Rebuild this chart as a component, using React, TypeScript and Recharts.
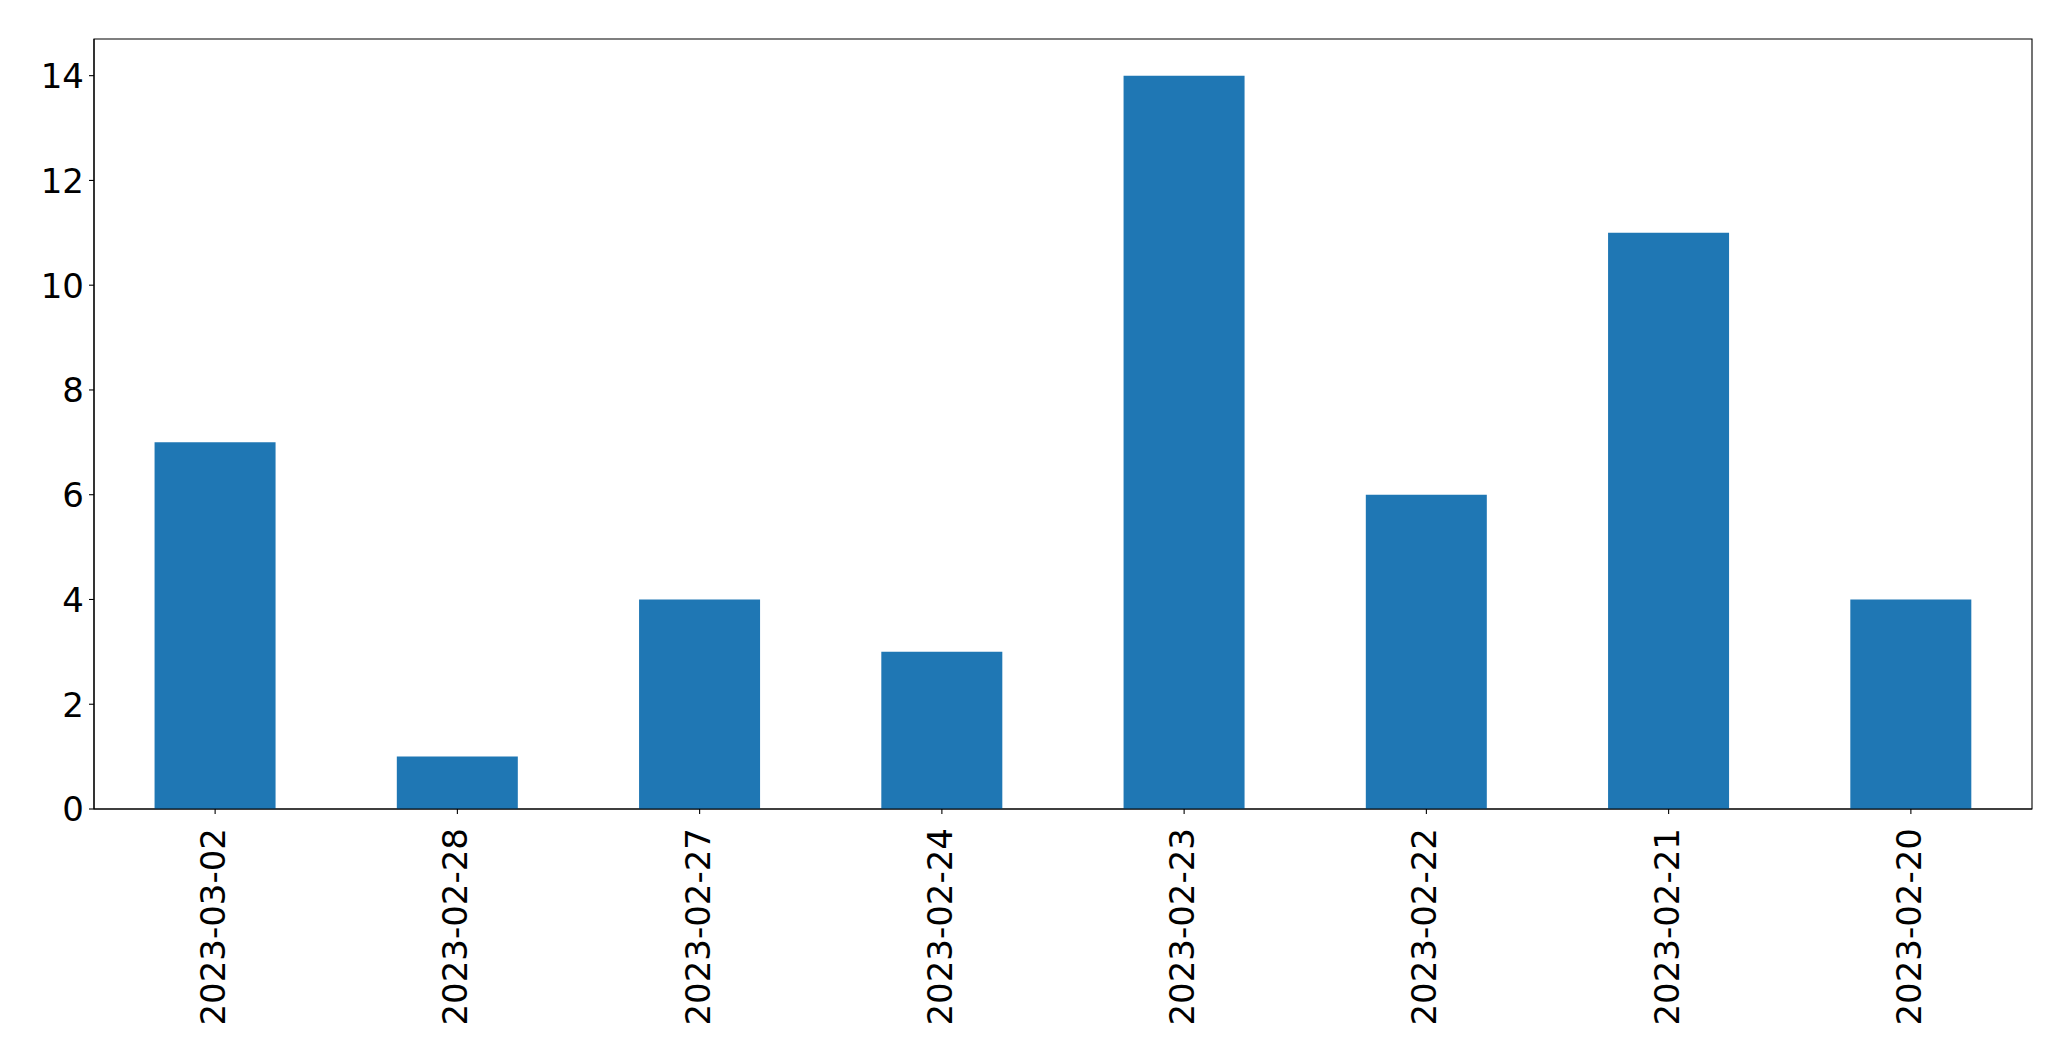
import React from "react";
import { BarChart, Bar, XAxis, YAxis, ReferenceArea } from "recharts";

const dates = [
  "2023-03-02",
  "2023-02-28",
  "2023-02-27",
  "2023-02-24",
  "2023-02-23",
  "2023-02-22",
  "2023-02-21",
  "2023-02-20",
];
const counts = [7, 1, 4, 3, 14, 6, 11, 4];
const yTicks = [0, 2, 4, 6, 8, 10, 12, 14];
const yMax = 14.7;

const data = dates.map((d, i) => ({ date: d, count: counts[i] }));

const FONT = "'DejaVu Sans', sans-serif";
const FS = 34;

const XTick = (props: any) => {
  const { x, y, payload } = props;
  return (
    <g transform={`translate(${x + 10},${y + 9}) rotate(-90)`}>
      <text x={0} y={0} textAnchor="end" fontFamily={FONT} fontSize={FS} fill="#000">
        {payload.value}
      </text>
    </g>
  );
};

const YTick = (props: any) => {
  const { x, y, payload } = props;
  return (
    <text x={x} y={y + 12.4} textAnchor="end" fontFamily={FONT} fontSize={FS} fill="#000">
      {payload.value}
    </text>
  );
};

export default function App() {
  return (
    <div style={{ position: "absolute", left: 0, top: 0, background: "#fff" }}>
      <BarChart
        width={2071}
        height={1061}
        data={data}
        margin={{ top: 39, right: 39, bottom: 0, left: 0 }}
        barCategoryGap="25%"
      >
        <XAxis
          dataKey="date"
          height={252}
          tick={<XTick />}
          tickSize={5}
          tickMargin={5}
          interval={0}
          stroke="#000"
          axisLine={{ stroke: "#000", strokeWidth: 1.1 }}
          tickLine={{ stroke: "#000", strokeWidth: 1.1 }}
        />
        <YAxis
          width={94}
          domain={[0, yMax]}
          ticks={yTicks}
          allowDataOverflow
          tick={<YTick />}
          tickSize={5}
          tickMargin={5}
          stroke="#000"
          axisLine={{ stroke: "#000", strokeWidth: 1.1 }}
          tickLine={{ stroke: "#000", strokeWidth: 1.1 }}
        />
        <Bar dataKey="count" fill="#1f77b4" isAnimationActive={false} />
        <ReferenceArea
          x1={dates[0]}
          x2={dates[dates.length - 1]}
          y1={0}
          y2={yMax}
          fill="none"
          fillOpacity={0}
          stroke="#000"
          strokeWidth={1.1}
          strokeOpacity={1}
          ifOverflow="visible"
        />
      </BarChart>
    </div>
  );
}
